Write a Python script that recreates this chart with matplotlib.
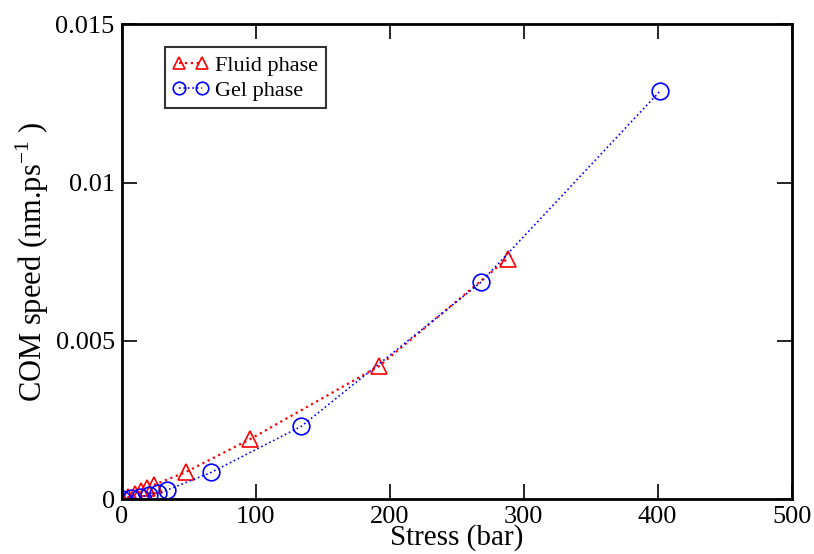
import numpy as np
import matplotlib
matplotlib.use('Agg')
import matplotlib.pyplot as plt

# Fluid phase
fluid_stress = [0.0, 4.8, 9.6, 14.4, 19.2, 24.0, 48.0, 96.0, 192.0, 288.0]
fluid_speed = [0.0, 0.00006, 0.00015, 0.00025, 0.00035, 0.00045, 0.00086, 0.0019, 0.0042, 0.0076]

# Gel phase
gel_stress = [0.0, 6.7, 13.4, 20.1, 26.8, 33.5, 67.0, 134.0, 268.0, 402.0]
gel_speed = [0.0, 0.00003, 0.00008, 0.00013, 0.00018, 0.00028, 0.00085, 0.0023, 0.00685, 0.0129]

plt.rcParams['font.family'] = ['Liberation Serif', 'DejaVu Serif']
plt.rcParams['mathtext.fontset'] = 'custom'
plt.rcParams['mathtext.rm'] = 'Liberation Serif'

fig = plt.figure(figsize=(8.14, 5.54), dpi=100)
ax = fig.add_axes([0.1495, 0.099, 0.823, 0.857])

ax.plot(fluid_stress, fluid_speed, color='red', linestyle=':', linewidth=1.6,
        marker='^', markersize=11, markerfacecolor='none', markeredgecolor='red',
        markeredgewidth=1.2, label='Fluid phase')
ax.plot(gel_stress, gel_speed, color='blue', linestyle=':', linewidth=1.2,
        marker='o', markersize=12, markerfacecolor='none', markeredgecolor='blue',
        markeredgewidth=1.2, label='Gel phase')

ax.set_xlim(0, 500)
ax.set_ylim(0, 0.015)
ax.set_xticks([0, 100, 200, 300, 400, 500])
ax.set_yticks([0, 0.005, 0.01, 0.015])
ax.set_yticklabels(['0', '0.005', '0.01', '0.015'])
ax.tick_params(direction='in', length=11, width=1.2, labelsize=19,
               top=True, right=True, pad=5)
for s in ax.spines.values():
    s.set_linewidth(2)

ax.set_xlabel('Stress (bar)', fontsize=21, labelpad=-3)
ax.set_ylabel(r'COM speed (nm.ps$^{-1}$ )', fontsize=22, labelpad=3)

leg = ax.legend(loc='upper left', bbox_to_anchor=(0.048, 0.975), fontsize=16,
                frameon=True, fancybox=False, edgecolor='black',
                handlelength=1.6, handletextpad=0.3, borderpad=0.35,
                labelspacing=0.2, numpoints=2)
leg.get_frame().set_linewidth(1.5)
for h in leg.legend_handles:
    h.set_markersize(9)

fig.savefig('out.png', dpi=100)
